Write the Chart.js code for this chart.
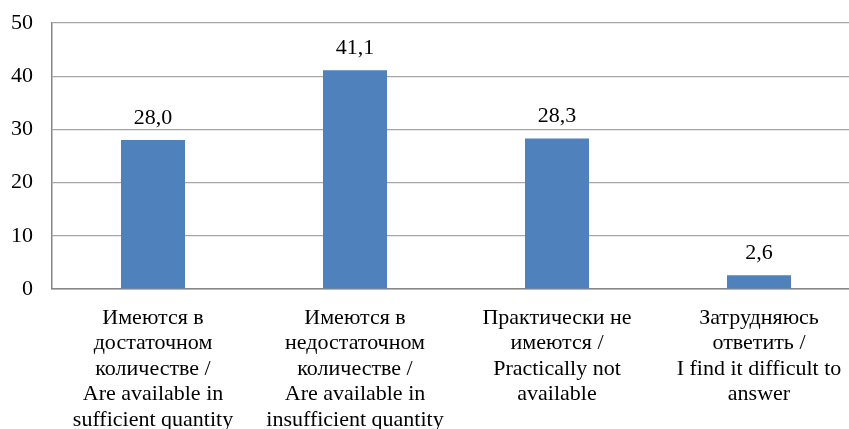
<!DOCTYPE html>
<html>
<head>
<meta charset="utf-8">
<script src="https://cdn.jsdelivr.net/npm/chart.js@4/dist/chart.umd.min.js"></script>
<style>
  html, body { margin: 0; padding: 0; background: #fff; overflow: hidden; }
  #wrap { width: 862px; height: 429px; }
</style>
</head>
<body>
<div id="wrap"><canvas id="availability"></canvas></div>
<script>
var categories = [
    ['Имеются в', 'достаточном', 'количестве /', 'Are available in', 'sufficient quantity'],
    ['Имеются в', 'недостаточном', 'количестве /', 'Are available in', 'insufficient quantity'],
    ['Практически не', 'имеются /', 'Practically not', 'available'],
    ['Затрудняюсь', 'ответить /', 'I find it difficult to', 'answer']
];
var shares = [28.0, 41.1, 28.3, 2.6];
var yTicks = [0, 10, 20, 30, 40, 50];

var serif = '"Liberation Serif", "Times New Roman", serif';

// value labels above each bar, decimal comma
var valueLabels = {
    id: 'valueLabels',
    afterDatasetsDraw: function (chart) {
        var ctx = chart.ctx;
        var meta = chart.getDatasetMeta(0);
        ctx.save();
        ctx.font = '22px ' + serif;
        ctx.fillStyle = '#000';
        ctx.textAlign = 'center';
        ctx.textBaseline = 'middle';
        meta.data.forEach(function (bar, i) {
            var txt = shares[i].toFixed(1).replace('.', ',');
            ctx.fillText(txt, bar.x, bar.y - 22);
        });
        ctx.restore();
    }
};

var el = document.getElementById('availability');
var myChart = new Chart(el, {
    type: 'bar',
    data: {
        labels: categories,
        datasets: [{
            data: shares,
            backgroundColor: '#4F81BD',
            borderWidth: 0,
            categoryPercentage: 1.0,
            barPercentage: 0.317
        }]
    },
    options: {
        responsive: true,
        maintainAspectRatio: false,
        animation: false,
        layout: { padding: { top: 23, left: 0, right: 2, bottom: 0 } },
        plugins: {
            legend: { display: false },
            tooltip: { enabled: false }
        },
        scales: {
            x: {
                grid: { display: false, drawTicks: false },
                border: { color: '#868686', width: 1.5 },
                ticks: {
                    color: '#000',
                    font: { family: serif, size: 22, lineHeight: 1.16 },
                    padding: 16,
                    maxRotation: 0,
                    autoSkip: false
                },
                afterFit: function (scale) {
                    scale.height = 140;
                    scale.paddingLeft = 0;
                    scale.paddingRight = 0;
                }
            },
            y: {
                min: 0,
                max: 50,
                afterBuildTicks: function (scale) {
                    scale.ticks = yTicks.map(function (v) { return {value: v}; });
                },
                grid: { color: '#a6a6a6', lineWidth: 1.2, drawTicks: false },
                border: { color: '#868686', width: 1.5 },
                ticks: {
                    color: '#000',
                    font: { family: serif, size: 22 },
                    padding: 19
                },
                afterFit: function (scale) {
                    scale.width = 52;
                    scale.paddingTop = 0;
                    scale.paddingBottom = 0;
                }
            }
        }
    },
    plugins: [valueLabels]
});
</script>
</body>
</html>
